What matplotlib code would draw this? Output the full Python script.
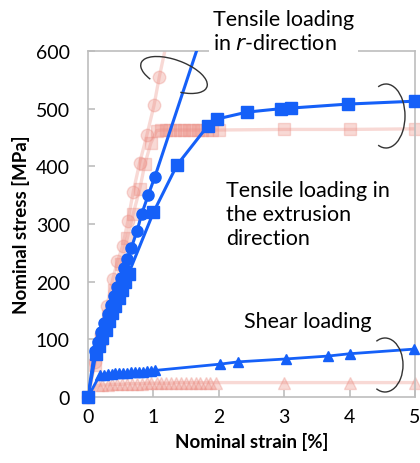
import numpy as np
import matplotlib
matplotlib.use('Agg')
import matplotlib.pyplot as plt
from matplotlib.patches import Arc
from matplotlib.transforms import IdentityTransform

plt.rcParams['font.family'] = ['Lato', 'DejaVu Sans']

# r-direction tensile (blue circles / faded pink circles)
r_blue_x = [0, 0.10, 0.15, 0.20, 0.25, 0.30, 0.35, 0.40, 0.45, 0.50, 0.55, 0.60, 0.66, 0.75, 0.82, 0.92, 1.02, 1.75]
r_blue_y = [0, 80, 96, 112, 128, 144, 160, 175, 191, 207, 223, 239, 258, 288, 317, 350, 381, 631]
r_pink_x = [0, 0.10, 0.20, 0.29, 0.38, 0.45, 0.53, 0.61, 0.69, 0.79, 0.90, 1.01, 1.09, 1.25]
r_pink_y = [0, 60, 110, 158, 205, 235, 262, 305, 355, 406, 454, 506, 555, 640]

# extrusion-direction tensile (blue squares / faded pink squares)
ext_blue_x = [0, 0.12, 0.17, 0.22, 0.27, 0.32, 0.37, 0.42, 0.47, 0.52, 0.57, 0.62, 1.00, 1.36, 1.83, 1.97, 2.43, 2.95, 3.10, 3.98, 5.00]
ext_blue_y = [0, 75, 89, 103, 117, 131, 145, 158, 172, 186, 200, 214, 320, 402, 470, 482, 494, 500, 501, 508, 513]
ext_pink_x = [0, 0.10, 0.20, 0.30, 0.40, 0.50, 0.60, 0.69, 0.79, 0.87, 0.96, 1.05, 1.12, 1.19, 1.26,
              1.33, 1.40, 1.47, 1.54, 1.61, 1.68, 1.75, 1.82, 1.90, 2.00, 3.00, 4.00, 5.00]
ext_pink_y = [0, 55, 100, 140, 185, 230, 275, 317, 360, 404, 440, 462, 463, 463, 463,
              463, 463, 463, 463, 463, 463, 463, 463, 463, 463, 464, 464, 465]

# shear loading (blue triangles / faded pink triangles)
sh_blue_x = [0, 0.18, 0.24, 0.30, 0.36, 0.42, 0.48, 0.54, 0.60, 0.66, 0.72, 0.78, 0.84, 0.90, 0.96, 1.02,
             2.02, 2.30, 3.03, 3.67, 4.00, 4.98]
sh_blue_y = [0, 38, 39, 40, 40, 41, 41, 42, 42, 43, 43, 44, 44, 45, 45, 46,
             57, 61, 66, 71, 75, 83]
sh_pink_x = [0, 0.15, 0.22, 0.30, 0.37, 0.45, 0.52, 0.60, 0.67, 0.75, 0.82, 0.90, 0.97, 1.05, 1.12,
             1.20, 1.27, 1.35, 1.42, 1.50, 1.57, 1.65, 1.72, 1.80, 1.87, 1.95, 3.00, 4.00, 5.00]
sh_pink_y = [0, 20, 21, 21, 22, 22, 22, 23, 23, 23, 23, 24, 24, 24, 24,
             24, 24, 25, 25, 25, 25, 25, 25, 25, 25, 25, 25, 25, 25]

BLUE = '#1560f8'
PINK = '#eb8c82'

fig = plt.figure(figsize=(4.2, 4.64), dpi=100)
ax = fig.add_axes([88 / 420, 66 / 464, 327 / 420, 346 / 464])


def draw(xs, ys, color, marker, ms, alpha, lw, z):
    xs = np.array(xs)
    ys = np.array(ys)
    ax.plot(xs, ys, color=color, lw=lw, alpha=alpha, zorder=z, solid_capstyle='butt')
    keep = ys <= 600
    ax.plot(xs[keep], ys[keep], ls='none', marker=marker, ms=ms, color=color,
            mec=color, alpha=alpha, zorder=z, clip_on=False)


# faded series behind
draw(r_pink_x, r_pink_y, PINK, 'o', 9, 0.33, 2.4, 2)
draw(ext_pink_x, ext_pink_y, PINK, 's', 8.5, 0.33, 2.4, 2)
draw(sh_pink_x, sh_pink_y, PINK, '^', 8.5, 0.33, 2.4, 2)

draw(r_blue_x, r_blue_y, BLUE, 'o', 8, 1, 2.2, 3)
draw(ext_blue_x, ext_blue_y, BLUE, 's', 8, 1, 2.2, 3)
draw(sh_blue_x, sh_blue_y, BLUE, '^', 7.5, 1, 2.0, 3)

ax.set_xlim(0, 5)
ax.set_ylim(0, 600)
ax.set_xticks([0, 1, 2, 3, 4, 5])
ax.set_yticks([0, 100, 200, 300, 400, 500, 600])
for s in ax.spines.values():
    s.set_color('#bdbdbd')
    s.set_linewidth(1.2)
ax.tick_params(direction='in', length=5, width=1.2, color='#bdbdbd', labelsize=14)
ax.tick_params(axis='y', pad=13)
ax.tick_params(axis='x', pad=8)

ax.set_xlabel('Nominal strain [%]', fontsize=13.5, fontweight='bold', labelpad=5)
ax.set_ylabel('Nominal stress [MPa]', fontsize=13.5, fontweight='bold', labelpad=4)

# bracket arcs (pixel coords, origin bottom-left)
H = 464
arcs = [
    ((174, H - 76), 70, 30, -20, -50, 210),
    ((386, H - 117), 38, 64, 0, -105, 105),
    ((385, H - 366), 36, 54, 0, -110, 110),
]
for c, w, h, ang, t1, t2 in arcs:
    fig.add_artist(Arc(c, w, h, angle=ang, theta1=t1, theta2=t2, color='#333333',
                       lw=1.0, transform=IdentityTransform(), zorder=10))

fig.text(213 / 420, 1 - 10 / 464, 'Tensile loading\nin $r$-direction', fontsize=15.5, va='top',
         ha='left', linespacing=1.25,
         bbox=dict(facecolor='white', edgecolor='none', pad=3))
fig.text(226 / 420, 1 - 181 / 464, 'Tensile loading in\nthe extrusion\ndirection', fontsize=15.5,
         va='top', ha='left', linespacing=1.25)
fig.text(244 / 420, 1 - 312 / 464, 'Shear loading', fontsize=15.5, va='top', ha='left')

fig.savefig('out.png', dpi=100)
